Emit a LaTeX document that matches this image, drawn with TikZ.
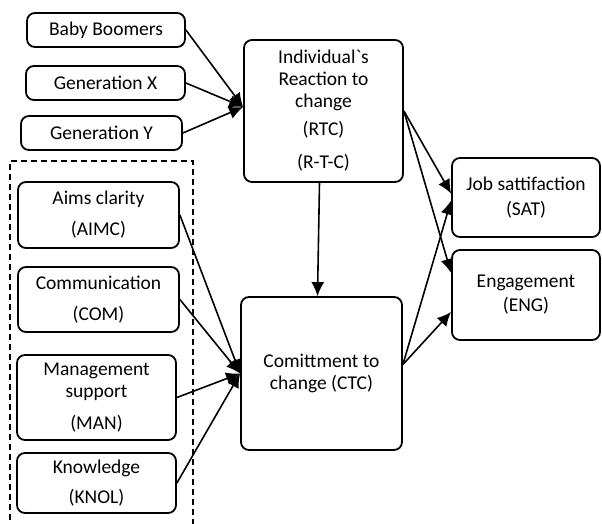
\documentclass[tikz,border=0pt]{standalone}
\usepackage{fontspec}
\setmainfont{Carlito}
\usetikzlibrary{arrows.meta}

\begin{document}
\begin{tikzpicture}[x=1pt,y=-1pt,
    box/.style={draw,line width=1.8pt,rounded corners=8pt,inner sep=0pt,align=center,
      font=\fontsize{19.5}{22}\selectfont},
    link/.style={line width=1.6pt,-{Latex[length=14pt,width=13pt]}}]
      \useasboundingbox (0,0) rectangle (602,524);

      \draw[line width=1.5pt,dash pattern=on 6pt off 4pt] (10,530) -- (10,161) -- (193,161) -- (193,530);

      \node[box,minimum width=158,minimum height=34] (bb) at (106,30) {Baby Boomers};
      \node[box,minimum width=159,minimum height=34] (genx) at (105.5,83) {Generation X};
      \node[box,minimum width=161,minimum height=34] (geny) at (101.5,133) {Generation Y};

      \node[box,minimum width=161,minimum height=66] (aimc) at (98.5,215) {Aims clarity\\[9pt](AIMC)};
      \node[box,minimum width=161,minimum height=65] (com) at (98.5,299.5) {Communication\\[9pt](COM)};
      \node[box,minimum width=159,minimum height=85] (man) at (96.5,397.5) {Management\\support\\[10pt](MAN)};
      \node[box,minimum width=159,minimum height=60] (knol) at (96.5,483) {Knowledge\\[8pt](KNOL)};

      \node[box,minimum width=159,minimum height=142] (rtc) at (323.5,111) {Individual\textasciigrave s\\Reaction to\\change\\[6pt](RTC)\\[11pt](R-T-C)};
      \node[box,minimum width=161,minimum height=153] (ctc) at (321.5,373.5) {Comittment to\\change (CTC)};

      \node[box,minimum width=148,minimum height=79] (sat) at (526,197.5) {Job sattifaction\\[3pt](SAT)};
      \node[box,minimum width=148,minimum height=90] (eng) at (526,295) {Engagement\\[2pt](ENG)};

      \draw[link] (bb.east) -- ([yshift=4pt]rtc.west);
      \draw[link] (genx.east) -- ([yshift=4pt]rtc.west);
      \draw[link] (geny.east) -- ([yshift=4pt]rtc.west);

      \draw[link] (aimc.east) -- (ctc.west);
      \draw[link] (com.east) -- (ctc.west);
      \draw[link] (man.east) -- (ctc.west);
      \draw[link] (knol.east) -- (ctc.west);

      \draw[link] ([xshift=-4pt]rtc.south) -- ([xshift=-4pt]ctc.north);

      \draw[link] (rtc.east) -- ([yshift=4pt]sat.west);
      \draw[link] (rtc.east) -- ([yshift=22pt]eng.west);
      \draw[link] ([yshift=9pt]ctc.east) -- ([yshift=-3pt]sat.west);
      \draw[link] ([yshift=9pt]ctc.east) -- ([yshift=-17pt]eng.west);
    \end{tikzpicture}
\end{document}
